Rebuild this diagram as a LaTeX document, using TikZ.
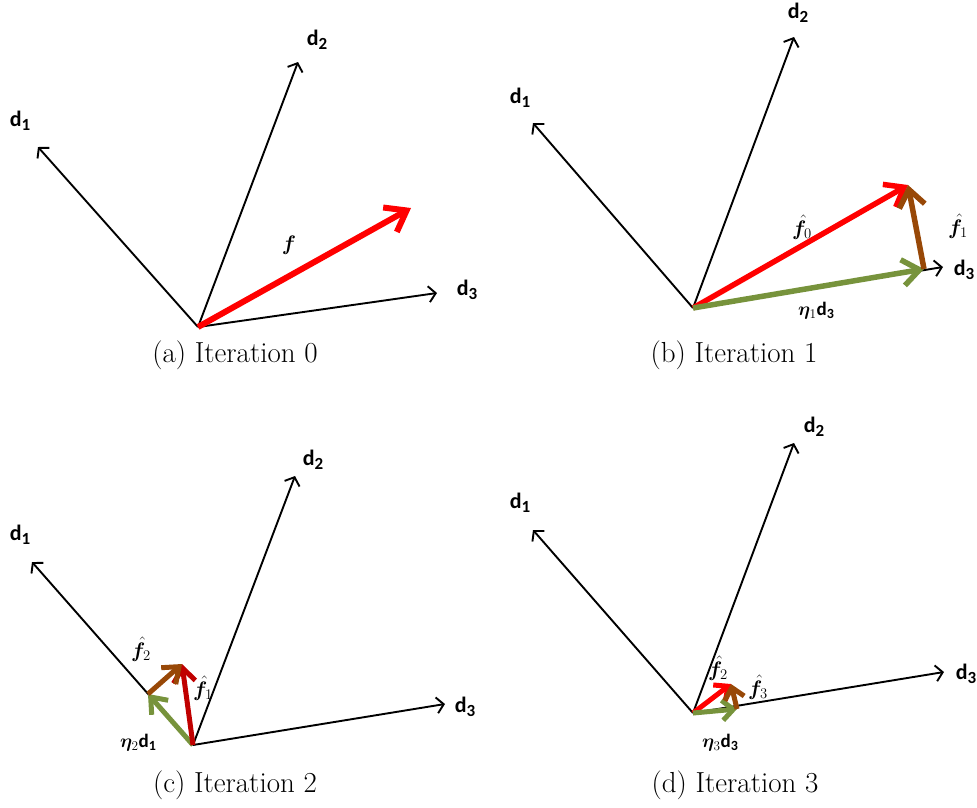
\RequirePackage{fix-cm}
\documentclass[tikz,border=0pt]{standalone}
\usepackage{amsmath,bm}
\usepackage{fontspec}
\usetikzlibrary{arrows.meta}
\newfontfamily\lab{Carlito}
\definecolor{vgreen}{HTML}{77933C}
\definecolor{vbrown}{HTML}{984807}
\definecolor{vdred}{HTML}{C00000}
\definecolor{vred}{HTML}{FF0000}
\newcommand\dv[1]{{\lab\bfseries d\raisebox{-0.35ex}{\fontsize{17}{17}\selectfont #1}}}
\newcommand\dvs[1]{{\lab\bfseries d\raisebox{-0.3ex}{\fontsize{14}{14}\selectfont #1}}}
\tikzset{
  axisarrow/.style={line width=1.9pt,-{Straight Barb[length=7pt,width=16pt]}},
  bigarrow/.style={line width=6pt,-{Straight Barb[length=19pt,width=28pt]}},
  midarrow/.style={line width=5.5pt,-{Straight Barb[length=17pt,width=26pt]}},
  smallarrow/.style={line width=5pt,-{Straight Barb[length=14pt,width=22pt]}},
  tinyarrow/.style={line width=5pt,-{Straight Barb[length=11pt,width=20pt]}},
  dlab/.style={font=\fontsize{22}{26}\selectfont, inner sep=0pt},
  flab/.style={font=\fontsize{21}{24}\selectfont, inner sep=0pt},
  elab/.style={font=\fontsize{19}{22}\selectfont, inner sep=0pt},
  captext/.style={font=\fontsize{29}{34}\selectfont, inner sep=0pt},
}
\begin{document}
\begin{tikzpicture}[x=1pt,y=-1pt]
\useasboundingbox (0,0) rectangle (977,807);
% ---------- (a)
\coordinate (ao) at (198,327);
\coordinate (a1) at (38,147);
\coordinate (a2) at (298,62);
\coordinate (a3) at (437,293);
\coordinate (af) at (411,208);
\draw[axisarrow] (ao) -- (a1);
\draw[axisarrow] (ao) -- (a2);
\draw[axisarrow] (ao) -- (a3);
\draw[bigarrow,vred] (ao) -- (af);
\node[dlab] (ad1) at (20,121) {\dv{1}};
\node[dlab] (ad2) at (317,40) {\dv{2}};
\node[dlab] (ad3) at (467,290) {\dv{3}};
\node[flab] (afl) at (289,245) {$\bm{f}$};
\node[captext] (acap) at (235,355) {(a) Iteration 0};
% ---------- (b)
\coordinate (bo) at (693,308);
\coordinate (b1) at (533,123);
\coordinate (b2) at (794,37);
\coordinate (b3) at (943,267);
\coordinate (bf) at (908,185);
\coordinate (bg) at (924,269);
\draw[axisarrow] (bo) -- (b1);
\draw[axisarrow] (bo) -- (b2);
\draw[axisarrow] (bo) -- (b3);
\draw[midarrow,vred] (bo) -- (bf);
\draw[midarrow,vgreen] (bo) -- (bg);
\draw[midarrow,vbrown] (bg) -- (bf);
\node[dlab] (bd1) at (520,98) {\dv{1}};
\node[dlab] (bd2) at (798,13) {\dv{2}};
\node[dlab] (bd3) at (964,270) {\dv{3}};
\node[flab] (bf0) at (802,227) {$\hat{\bm{f}}_{0}$};
\node[flab] (bf1) at (958,226) {$\hat{\bm{f}}_{1}$};
\node[elab] (beta) at (816,311) {$\bm{\eta}_{1}$\dvs{3}};
\node[captext] (bcap) at (734,355) {(b) Iteration 1};
% ---------- (c)
\coordinate (co) at (193,745);
\coordinate (c1) at (32,562);
\coordinate (c2) at (295,476);
\coordinate (c3) at (445,704);
\coordinate (cg) at (148,694);
\coordinate (cf) at (182,664);
\draw[axisarrow] (co) -- (c1);
\draw[axisarrow] (co) -- (c2);
\draw[axisarrow] (co) -- (c3);
\draw[smallarrow,vgreen] (co) -- (cg);
\draw[smallarrow,vdred] (co) -- (cf);
\draw[smallarrow,vbrown] (cg) -- (cf);
\node[dlab] (cd1) at (20,535) {\dv{1}};
\node[dlab] (cd2) at (313,460) {\dv{2}};
\node[dlab] (cd3) at (465,707) {\dv{3}};
\node[flab] (cf2) at (141,649) {$\hat{\bm{f}}_{2}$};
\node[flab] (cf1) at (203,688) {$\hat{\bm{f}}_{1}$};
\node[elab] (ceta) at (138,743) {$\bm{\eta}_{2}$\dvs{1}};
\node[captext] (ccap) at (235,785) {(c) Iteration 2};
% ---------- (d)
\coordinate (do) at (693,713);
\coordinate (d1) at (533,530);
\coordinate (d2) at (794,443);
\coordinate (d3) at (944,672);
\coordinate (dg) at (737,709);
\coordinate (df) at (731,684);
\draw[axisarrow] (do) -- (d1);
\draw[axisarrow] (do) -- (d2);
\draw[axisarrow] (do) -- (d3);
\draw[tinyarrow,vred] (do) -- (df);
\draw[tinyarrow,vgreen] (do) -- (dg);
\draw[tinyarrow,vbrown] (dg) -- (df);
\node[dlab] (dd1) at (520,503) {\dv{1}};
\node[dlab] (dd2) at (814,427) {\dv{2}};
\node[dlab] (dd3) at (966,674) {\dv{3}};
\node[flab] (df2) at (718,668) {$\hat{\bm{f}}_{2}$};
\node[flab] (df3) at (758,687) {$\hat{\bm{f}}_{3}$};
\node[elab] (deta) at (720,743) {$\bm{\eta}_{3}$\dvs{3}};
\node[captext] (dcap) at (735,785) {(d) Iteration 3};
\end{tikzpicture}
\end{document}
